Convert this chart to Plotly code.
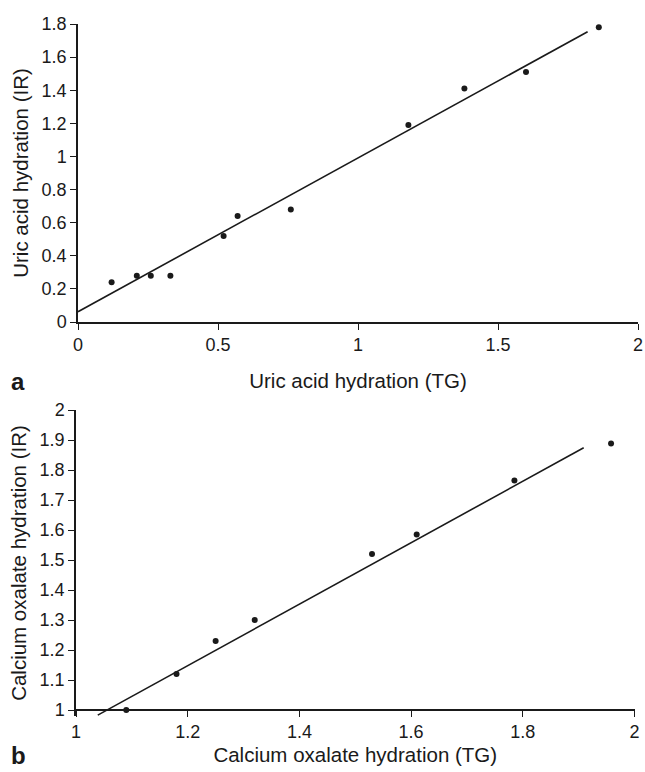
import plotly.graph_objects as go

# Panel a: uric acid
ua_tg = [0.12, 0.21, 0.26, 0.33, 0.52, 0.57, 0.76, 1.18, 1.38, 1.60, 1.86]
ua_ir = [0.24, 0.28, 0.28, 0.28, 0.52, 0.64, 0.68, 1.19, 1.41, 1.51, 1.78]
ua_fit_x = [0.0, 1.82]
ua_fit_y = [0.062, 1.753]

# Panel b: calcium oxalate
co_tg = [1.09, 1.18, 1.25, 1.32, 1.53, 1.61, 1.785, 1.958]
co_ir = [1.00, 1.12, 1.23, 1.30, 1.52, 1.585, 1.765, 1.888]
co_fit_x = [1.039, 1.909]
co_fit_y = [0.983, 1.874]

W, H = 645, 772
FONT = "Liberation Sans, Arial, sans-serif"
INK = "#1a1a1a"

fig = go.Figure()
fig.add_trace(go.Scatter(x=ua_fit_x, y=ua_fit_y, mode="lines",
                         line=dict(color=INK, width=1.6), xaxis="x", yaxis="y", showlegend=False))
fig.add_trace(go.Scatter(x=ua_tg, y=ua_ir, mode="markers",
                         marker=dict(color=INK, size=6), xaxis="x", yaxis="y",
                         showlegend=False, cliponaxis=False))
fig.add_trace(go.Scatter(x=co_fit_x, y=co_fit_y, mode="lines",
                         line=dict(color=INK, width=1.6), xaxis="x2", yaxis="y2", showlegend=False))
fig.add_trace(go.Scatter(x=co_tg, y=co_ir, mode="markers",
                         marker=dict(color=INK, size=6), xaxis="x2", yaxis="y2",
                         showlegend=False, cliponaxis=False))

def px_x(p):
    return p / W

def px_y(p):
    return 1 - p / H

axis_common = dict(showline=True, linecolor=INK, linewidth=1.5, ticks="outside",
                   ticklen=6, tickwidth=1.2, tickcolor=INK, showgrid=False, zeroline=False,
                   automargin=False,
                   tickfont=dict(family=FONT, size=18, color=INK),
                   title_font=dict(family=FONT, size=20.5, color=INK))

fig.update_layout(
    template="none",
    width=W, height=H,
    margin=dict(l=0, r=0, t=0, b=0),
    paper_bgcolor="white", plot_bgcolor="white",
    font=dict(family=FONT, color=INK),
    xaxis=dict(domain=[px_x(78), px_x(638)], range=[0, 2], dtick=0.5, tick0=0,
               anchor="y", title=dict(text="Uric acid hydration (TG)", standoff=19),
               **axis_common),
    yaxis=dict(domain=[px_y(322), px_y(24)], range=[0, 1.8], dtick=0.2, tick0=0,
               anchor="x", title=dict(text="Uric acid hydration (IR)", standoff=7),
               **axis_common),
    xaxis2=dict(domain=[px_x(76), px_x(634.5)], range=[1, 2], dtick=0.2, tick0=1,
                anchor="free", position=px_y(710),
                title=dict(text="Calcium oxalate hydration (TG)", standoff=5),
                **axis_common),
    yaxis2=dict(domain=[px_y(716), px_y(410)], range=[0.98, 2], dtick=0.1, tick0=1,
                anchor="x2", title=dict(text="Calcium oxalate hydration (IR)", standoff=7),
                **axis_common),
    annotations=[
        dict(text="<b>a</b>", x=px_x(18), y=px_y(381), xref="paper", yref="paper",
             xanchor="center", yanchor="middle",
             showarrow=False, font=dict(family=FONT, size=24, color=INK)),
        dict(text="<b>b</b>", x=px_x(18), y=px_y(755), xref="paper", yref="paper",
             xanchor="center", yanchor="middle",
             showarrow=False, font=dict(family=FONT, size=24, color=INK)),
    ],
)

fig.write_html("out.html", config={"displayModeBar": False},
               post_script="document.body.style.margin='0';")
